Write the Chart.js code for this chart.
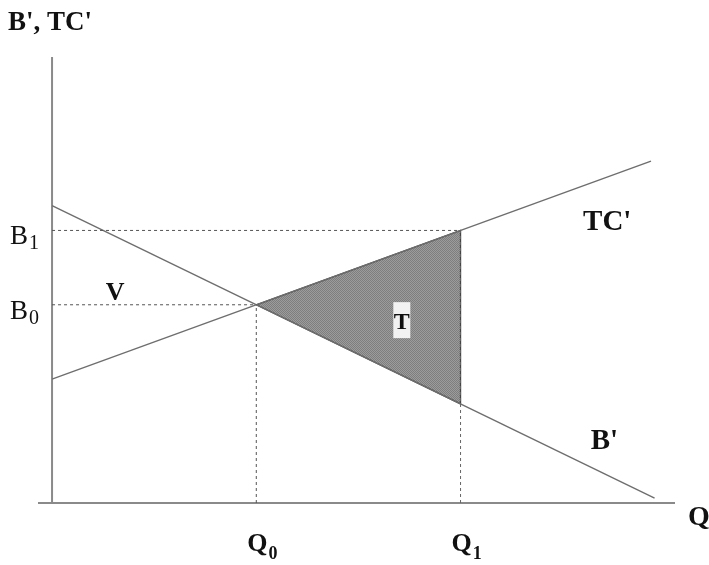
<!DOCTYPE html>
<html>
<head>
<meta charset="utf-8">
<script src="https://cdn.jsdelivr.net/npm/chart.js@4.4.1/dist/chart.umd.min.js"></script>
<style>
html,body{margin:0;padding:0;background:#fff;}
#wrap{width:709px;height:565px;}
</style>
</head>
<body>
<div id="wrap"><canvas id="c" width="709" height="565"></canvas></div>
<script>
// ---- data ----
const qValues = [4, 8];            // Q0, Q1
const qLabels = ['Q', 'Q'];
const qSubs = ['0', '1'];
const bValues = [8, 11];           // B0, B1
const bLabels = ['B', 'B'];
const bSubs = ['0', '1'];
const bPrimeX = [0, 11.8];         // marginal benefit B'
const bPrimeY = [12, 0.2];
const tcPrimeX = [0, 11.73];       // marginal cost TC'
const tcPrimeY = [5, 13.8];
const xAxisRange = [-0.275, 12.2];
const yAxisRange = [0, 18];
const curveLabels = ["TC'", "B'", 'V', 'T'];
const axisTitles = ["B', TC'", 'Q'];

// ---- helpers ----
const seg = (xs, ys) => xs.map((x, i) => ({x: x, y: ys[i]}));
const lineAt = (xs, ys, x) => ys[0] + (ys[1]-ys[0])/(xs[1]-xs[0])*(x - xs[0]);
const triangle = [
  {x: qValues[0], y: bValues[0]},
  {x: qValues[1], y: lineAt(tcPrimeX, tcPrimeY, qValues[1])},
  {x: qValues[1], y: lineAt(bPrimeX, bPrimeY, qValues[1])},
  {x: qValues[0], y: bValues[0]}
];

function makePattern(){
  const p = document.createElement('canvas');
  p.width = 2; p.height = 2;
  const g = p.getContext('2d');
  g.fillStyle = '#9c9c9c'; g.fillRect(0,0,2,2);
  g.fillStyle = '#7e7e7e'; g.fillRect(0,0,1,1); g.fillRect(1,1,1,1);
  return g.createPattern(p, 'repeat');
}

const dashStyle = {borderColor:'#555', borderWidth:1, borderDash:[3,3], pointRadius:0, showLine:true, fill:false, clip:false};
const solidStyle = {borderColor:'#6e6e6e', borderWidth:1.4, pointRadius:0, showLine:true, fill:false, clip:false};

const datasets = [
  Object.assign({}, dashStyle, {data: seg([0, qValues[1]], [bValues[1], bValues[1]]), order: 2}),
  Object.assign({}, dashStyle, {data: seg([0, qValues[0]], [bValues[0], bValues[0]]), order: 2}),
  Object.assign({}, dashStyle, {data: seg([qValues[0], qValues[0]], [0, bValues[0]]), order: 2}),
  Object.assign({}, dashStyle, {borderColor:'#666', data: seg([qValues[1], qValues[1]], [0, lineAt(tcPrimeX, tcPrimeY, qValues[1])]), order: 1}),
  Object.assign({}, solidStyle, {data: seg(bPrimeX, bPrimeY), order: 3}),
  Object.assign({}, solidStyle, {data: seg(tcPrimeX, tcPrimeY), order: 3}),
  {data: triangle, showLine:true, pointRadius:0, borderColor:'#444', borderWidth:1.3, backgroundColor: makePattern(), fill:'shape', clip:false, order: 4},
  Object.assign({}, solidStyle, {borderColor:'#8a8a8a', borderWidth:2, data: seg([xAxisRange[0], xAxisRange[1]], [0, 0]), order: 5}),
  Object.assign({}, solidStyle, {borderColor:'#8a8a8a', borderWidth:2, data: seg([0, 0], [yAxisRange[0], yAxisRange[1]]), order: 5})
];

function subText(ctx, main, sub, x, y, font, subFont, subDy){
  ctx.font = font;
  ctx.fillText(main, x, y);
  const w = ctx.measureText(main).width;
  ctx.font = subFont;
  ctx.fillText(sub, x + w + 1, y + subDy);
}

const labelPlugin = {
  id: 'labels',
  afterDatasetsDraw(chart){
    const ctx = chart.ctx;
    const xs = chart.scales.x, ys = chart.scales.y;
    ctx.save();
    ctx.fillStyle = '#111';
    ctx.textAlign = 'left';
    ctx.textBaseline = 'alphabetic';
    // axis titles
    ctx.font = 'bold 27px "Liberation Serif"';
    ctx.fillText(axisTitles[0], 8, 30);
    ctx.font = 'bold 28px "Liberation Serif"';
    ctx.fillText(axisTitles[1], xs.getPixelForValue(xAxisRange[1]) + 13, ys.getPixelForValue(0) + 22);
    // B ticks
    bValues.forEach((v, i) => {
      subText(ctx, bLabels[i], bSubs[i], 10, ys.getPixelForValue(v) + 14,
        '27px "Liberation Serif"', '20px "Liberation Serif"', 5);
    });
    // Q ticks
    qValues.forEach((v, i) => {
      subText(ctx, qLabels[i], qSubs[i], xs.getPixelForValue(v) - 9, ys.getPixelForValue(0) + 48,
        'bold 26px "Liberation Serif"', 'bold 18px "Liberation Serif"', 8);
    });
    // curve labels
    ctx.font = 'bold 29px "Liberation Serif"';
    ctx.fillText(curveLabels[0], xs.getPixelForValue(10.4), ys.getPixelForValue(11.0));
    ctx.font = 'bold 29px "Liberation Serif"';
    ctx.fillText(curveLabels[1], xs.getPixelForValue(10.55), ys.getPixelForValue(2.18));
    ctx.font = 'bold 26px "Liberation Serif"';
    ctx.fillText(curveLabels[2], xs.getPixelForValue(1.05), ys.getPixelForValue(8.2));
    // T with white box
    const tx = xs.getPixelForValue(6.85), ty = ys.getPixelForValue(7.38);
    ctx.fillStyle = '#f2f2f2';
    ctx.fillRect(tx - 8.5, ty - 18, 17, 36);
    ctx.fillStyle = '#111';
    ctx.textAlign = 'center';
    ctx.textBaseline = 'middle';
    ctx.font = 'bold 24px "Liberation Serif"';
    ctx.fillText(curveLabels[3], tx, ty + 3);
    ctx.restore();
  }
};

new Chart(document.getElementById('c'), {
  type: 'scatter',
  data: {datasets: datasets},
  options: {
    responsive: false,
    animation: false,
    events: [],
    layout: {padding: {left: 38, right: 34, top: 57, bottom: 62}},
    plugins: {legend: {display: false}, tooltip: {enabled: false}},
    scales: {
      x: {type: 'linear', display: false, min: xAxisRange[0], max: xAxisRange[1]},
      y: {type: 'linear', display: false, min: yAxisRange[0], max: yAxisRange[1]}
    }
  },
  plugins: [labelPlugin]
});
</script>
</body>
</html>
